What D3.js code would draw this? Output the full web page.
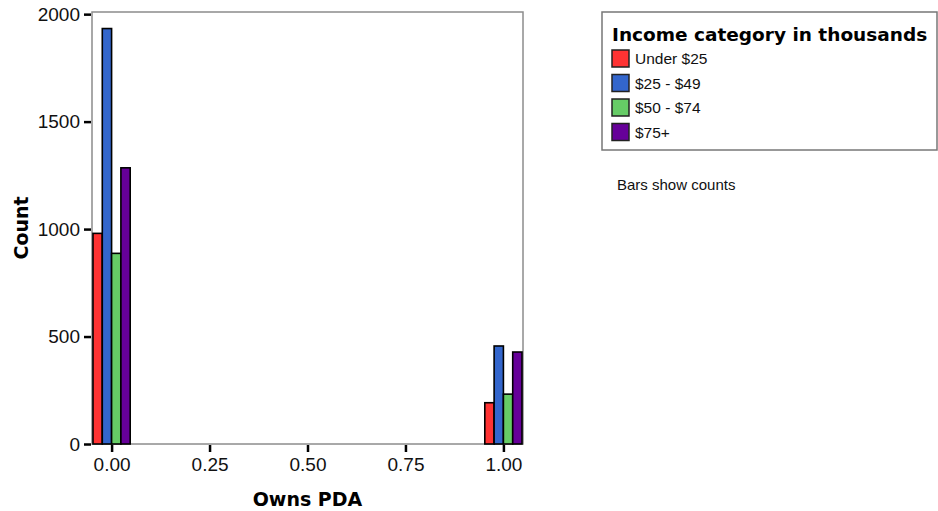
<!DOCTYPE html>
<html>
<head>
<meta charset="utf-8">
<script src="https://cdn.jsdelivr.net/npm/d3@7"></script>
<style>
  body { margin: 0; background: #fff; }
  svg { display: block; font-family: "Liberation Sans", Arial, sans-serif; }
  .bold-title { font-family: "DejaVu Sans", Verdana, sans-serif; font-weight: bold; }
</style>
</head>
<body>
<div id="chart"></div>
<script>
const width = 938, height = 511;

// owns PDA value on x axis
const groups = [0, 1];
const categories = ["Under $25", "$25 - $49", "$50 - $74", "$75+"];
const colors = ["#ff3333", "#3366cc", "#66cc66", "#660099"];
// counts per income category, one entry per group
const under25 = [980, 192];
const from25to49 = [1933, 456];
const from50to74 = [887, 232];
const over75 = [1285, 428];
const yTicks = [0, 500, 1000, 1500, 2000];
const xTicks = [0, 0.25, 0.5, 0.75, 1];

const series = [under25, from25to49, from50to74, over75];

const plot = { left: 92, right: 523, top: 12, bottom: 444 };

const svg = d3.select("#chart").append("svg")
  .attr("width", width)
  .attr("height", height);

const x = d3.scaleLinear().domain([-0.05, 1.05]).range([plot.left, plot.right]);
const y = d3.scaleLinear().domain([0, 2010]).range([plot.bottom, plot.top]);
// offsets of each category bar inside a group, in data units
const inner = d3.scaleBand().domain(categories).range([-0.0475, 0.0475]);

// frame
svg.append("rect")
  .attr("x", plot.left).attr("y", plot.top)
  .attr("width", plot.right - plot.left)
  .attr("height", plot.bottom - plot.top)
  .attr("fill", "#fff")
  .attr("stroke", "#8c8c8c")
  .attr("stroke-width", 1.5);

let bars = [];
groups.forEach((g, gi) => {
  categories.forEach((c, ci) => {
    bars.push({ g: g, cat: c, ci: ci, value: series[ci][gi] });
  });
});

svg.append("g").selectAll("rect")
  .data(bars)
  .enter().append("rect")
  .attr("x", d => x(d.g + inner(d.cat)))
  .attr("width", d => x(d.g + inner(d.cat) + inner.bandwidth()) - x(d.g + inner(d.cat)))
  .attr("y", d => y(d.value))
  .attr("height", d => y(0) - y(d.value))
  .attr("fill", d => colors[d.ci])
  .attr("stroke", "#000")
  .attr("stroke-width", 1.6);

// y axis
const yAxis = svg.append("g")
  .attr("transform", "translate(" + (plot.left - 1) + ",0)")
  .call(d3.axisLeft(y).tickValues(yTicks).tickSize(7).tickPadding(4).tickFormat(d3.format("d")));
yAxis.select(".domain").remove();
yAxis.selectAll(".tick line").attr("stroke", "#000").attr("stroke-width", 2.5);
yAxis.selectAll("text").attr("font-size", 19).attr("fill", "#111")
  .attr("font-family", "'Liberation Sans', Arial, sans-serif");

// x axis
const xAxis = svg.append("g")
  .attr("transform", "translate(0," + (plot.bottom + 1) + ")")
  .call(d3.axisBottom(x).tickValues(xTicks).tickSize(7).tickPadding(6).tickFormat(d3.format(".2f")));
xAxis.select(".domain").remove();
xAxis.selectAll(".tick line").attr("stroke", "#000").attr("stroke-width", 2.5);
xAxis.selectAll("text").attr("font-size", 19).attr("fill", "#111")
  .attr("font-family", "'Liberation Sans', Arial, sans-serif");

// axis titles
svg.append("text")
  .attr("class", "bold-title")
  .attr("x", (plot.left + plot.right) / 2)
  .attr("y", 506)
  .attr("text-anchor", "middle")
  .attr("font-size", 19)
  .text("Owns PDA");

svg.append("text")
  .attr("class", "bold-title")
  .attr("transform", "translate(28," + ((plot.top + plot.bottom) / 2) + ") rotate(-90)")
  .attr("text-anchor", "middle")
  .attr("font-size", 19)
  .text("Count");

// legend
const legend = svg.append("g");
legend.append("rect")
  .attr("x", 602).attr("y", 12)
  .attr("width", 335).attr("height", 138)
  .attr("fill", "#fff")
  .attr("stroke", "#777")
  .attr("stroke-width", 1.5);

legend.append("text")
  .attr("class", "bold-title")
  .attr("x", 612).attr("y", 41)
  .attr("font-size", 18.5)
  .text("Income category in thousands");

const item = legend.selectAll(".legend-item")
  .data(categories)
  .enter().append("g")
  .attr("class", "legend-item")
  .attr("transform", (d, i) => "translate(612," + (50 + i * 24.5) + ")");

item.append("rect")
  .attr("width", 17).attr("height", 17)
  .attr("fill", (d, i) => colors[i])
  .attr("stroke", "#222")
  .attr("stroke-width", 1.5);

item.append("text")
  .attr("x", 23).attr("y", 14)
  .attr("font-size", 15.5)
  .attr("fill", "#111")
  .text(d => d);

svg.append("text")
  .attr("x", 617).attr("y", 190)
  .attr("font-size", 15)
  .attr("fill", "#111")
  .text("Bars show counts");
</script>
</body>
</html>
